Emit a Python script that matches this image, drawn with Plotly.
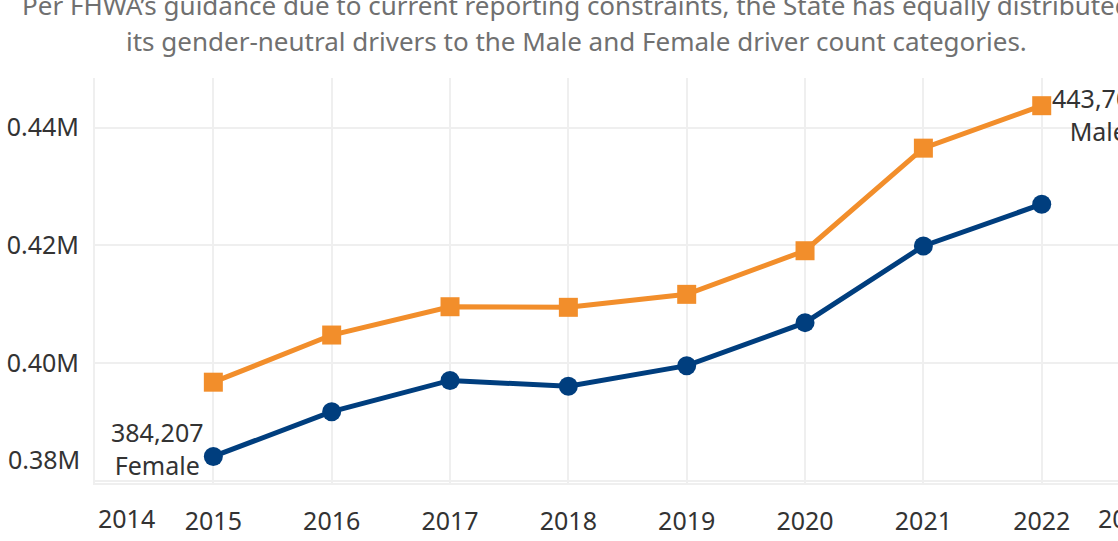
import plotly.graph_objects as go

years = [2015, 2016, 2017, 2018, 2019, 2020, 2021, 2022]
female = [384207, 391800, 397100, 396100, 399600, 406900, 419900, 427000]
male = [396800, 404800, 409600, 409500, 411700, 419100, 436500, 443702]
y_tick_vals = [380000, 400000, 420000, 440000]
y_tick_text = ["0.38M", "0.40M", "0.42M", "0.44M"]
title_lines = [
    "Per FHWA\u2019s guidance due to current reporting constraints, the State has equally distributed",
    "its gender-neutral drivers to the Male and Female driver count categories.",
]

BLUE = "#003E7E"
ORANGE = "#F28E2B"
GRID = "#EFEFEF"
FONT = "Noto Sans"
TXT = "#333333"
FS = 25

fig = go.Figure()
fig.add_trace(go.Scatter(x=years, y=male, mode="lines+markers", name="Male",
                         line=dict(color=ORANGE, width=5),
                         marker=dict(symbol="square", size=19, color=ORANGE)))
fig.add_trace(go.Scatter(x=years, y=female, mode="lines+markers", name="Female",
                         line=dict(color=BLUE, width=5),
                         marker=dict(symbol="circle", size=19, color=BLUE)))

anns = []
# end labels
anns.append(dict(x=years[0], y=female[0], xref="x", yref="y",
                 text=f"{female[0]:,}<br>Female", showarrow=False,
                 xanchor="right", yanchor="middle", align="center",
                 xshift=-7, yshift=8, font=dict(family=FONT, size=FS, color=TXT)))
anns.append(dict(x=years[-1], y=male[-1], xref="x", yref="y",
                 text=f"{male[-1]:,}<br>Male", showarrow=False,
                 xanchor="left", yanchor="middle", align="center",
                 xshift=8, yshift=-9, font=dict(family=FONT, size=FS, color=TXT)))
# edge year labels (shifted inward, as in the original)
anns.append(dict(x=2014, y=0, xref="x", yref="y domain", text="2014", showarrow=False,
                 xanchor="left", yanchor="top", yshift=-16, xshift=1,
                 font=dict(family=FONT, size=FS, color=TXT)))
anns.append(dict(x=1, y=0, xref="x domain", yref="y domain", text="2023", showarrow=False,
                 xanchor="left", yanchor="top", yshift=-16, xshift=-22,
                 font=dict(family=FONT, size=FS, color=TXT)))
# bottom y label, shifted up inside the axis as in the original
anns.append(dict(x=0, y=y_tick_vals[0], xref="x domain", yref="y", text=y_tick_text[0],
                 showarrow=False, xanchor="right", yanchor="bottom", xshift=-13, yshift=3,
                 font=dict(family=FONT, size=FS, color=TXT)))
# title lines
for i, line in enumerate(title_lines):
    anns.append(dict(x=0.471, y=1, xref="paper", yref="paper", text=line, showarrow=False,
                     xanchor="center", yanchor="middle", yshift=73 - 36 * i,
                     font=dict(family=FONT, size=26, color="#707070")))

fig.update_layout(
    width=1118, height=541,
    margin=dict(l=95, r=0, t=78, b=58),
    plot_bgcolor="white", paper_bgcolor="white",
    showlegend=False,
    annotations=anns,
    font=dict(family=FONT, size=FS, color=TXT),
)
fig.update_xaxes(range=[2014, 2014 + 1023 / 118.34],
                 tickvals=[2014] + years, ticktext=[""] + [str(y) for y in years],
                 showgrid=True, gridcolor=GRID, gridwidth=2,
                 showline=True, linecolor=GRID, linewidth=2,
                 zeroline=False, ticks="", ticklabelstandoff=15,
                 tickfont=dict(family=FONT, size=FS, color=TXT))
fig.update_yaxes(range=[379700, 448400],
                 tickvals=y_tick_vals, ticktext=[""] + y_tick_text[1:],
                 showgrid=True, gridcolor=GRID, gridwidth=2,
                 showline=True, linecolor=GRID, linewidth=2,
                 zeroline=False, ticks="", ticklabelstandoff=9,
                 tickfont=dict(family=FONT, size=FS, color=TXT))

fig.write_html("out.html", config={"displayModeBar": False},
               post_script="document.body.style.margin='0';document.body.style.overflow='hidden';")
